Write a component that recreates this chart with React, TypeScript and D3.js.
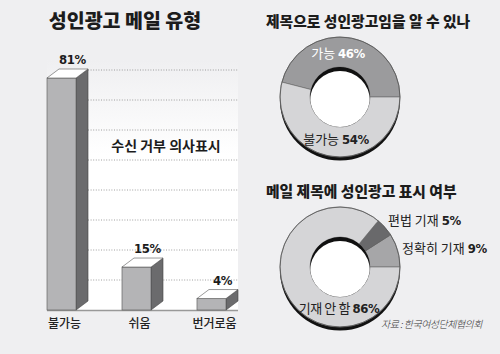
import React from 'react';
import * as d3 from 'd3';

// bar chart: 성인광고 메일 유형 (수신 거부 의사표시)
const barCategories = ['불가능', '쉬움', '번거로움'];
const barValues = [81, 15, 4];
const gridLines = [1, 2, 3, 4, 5, 6, 7, 8];

// donut 1: 제목으로 성인광고임을 알 수 있나
const donut1Labels = ['가능', '불가능'];
const donut1Values = [46, 54];

// donut 2: 메일 제목에 성인광고 표시 여부
const donut2Labels = ['정확히 기재', '편법 기재', '기재 안 함'];
const donut2Values = [9, 5, 86];

const W = 500;
const H = 354;
const BG = '#efeff1';
const KR = "'Noto Sans CJK KR', 'Noto Sans', sans-serif";
const NUM = "'Liberation Sans Narrow', 'DejaVu Sans Condensed', 'Liberation Sans', Arial, sans-serif";

interface DonutProps {
  id: string;
  cx: number;
  cy: number;
  values: number[];
  colors: string[];
}

const Donut: React.FC<DonutProps> = ({ id, cx, cy, values, colors }) => {
  const outer = 60;
  const inner = 30;
  const pie = d3.pie<number>()
    .sort(null)
    .startAngle(Math.PI / 2)
    .endAngle(Math.PI / 2 - 2 * Math.PI);
  const arc = d3.arc<d3.PieArcDatum<number>>()
    .innerRadius(inner)
    .outerRadius(outer);
  const slices = pie(values);

  return (
    <g transform={`translate(${cx},${cy})`}>
      <defs>
        <clipPath id={`hole-${id}`}>
          <circle r={inner} />
        </clipPath>
      </defs>
      {/* drop shadow under the ring */}
      <circle cx={0} cy={3.5} r={outer} fill="#111" />
      {slices.map((s, i) => (
        <path key={i} d={arc(s) || ''} fill={colors[i]} stroke="#6a6a6a" strokeWidth={0.6} />
      ))}
      <circle r={outer} fill="none" stroke="#555" strokeWidth={0.8} />
      {/* hole with shadow at the top */}
      <g clipPath={`url(#hole-${id})`}>
        <circle r={inner} fill="#111" />
        <circle cy={4} r={inner} fill="#fff" />
      </g>
    </g>
  );
};

const App: React.FC = () => {
  const baseY = 310;
  const depthX = 12;
  const depthY = 9;

  const xScale = d3.scaleBand<string>()
    .domain(barCategories)
    .range([47, 226])
    .paddingInner(0.613)
    .paddingOuter(0);
  const bw = xScale.bandwidth();

  const yScale = d3.scaleLinear()
    .domain([0, 81])
    .range([baseY, 78]);

  const gridScale = d3.scaleLinear()
    .domain([0, 8])
    .range([baseY, 70]);

  const numStyle = { fontStretch: 'condensed' as const, letterSpacing: '-0.4px' };

  return (
    <div style={{ position: 'absolute', left: 0, top: 0 }}>
      <svg width={W} height={H} style={{ display: 'block', background: BG }}>
        <defs>
          <linearGradient id="plotFade" x1="0" y1="0" x2="0" y2="1">
            <stop offset="0" stopColor={BG} />
            <stop offset="0.38" stopColor="#ffffff" />
            <stop offset="1" stopColor="#ffffff" />
          </linearGradient>
        </defs>

        {/* ---------- left: bar chart ---------- */}
        <text x={125} y={28} textAnchor="middle" fontFamily={KR} fontWeight={900}
          fontSize={19.5} fill="#1c1c1c">성인광고 메일 유형</text>

        <rect x={47} y={60} width={191} height={baseY - 60} fill="url(#plotFade)" />

        {gridLines.map(g => (
          <line key={g} x1={88} x2={238} y1={gridScale(g)} y2={gridScale(g)}
            stroke="#888" strokeWidth={0.8} strokeDasharray="1,1.6" />
        ))}

        <text x={166} y={151} textAnchor="middle" fontFamily={KR} fontWeight={700}
          fontSize={14} fill="#1c1c1c">수신 거부 의사표시</text>

        <line x1={47} x2={238} y1={baseY + 0.5} y2={baseY + 0.5} stroke="#999" strokeWidth={1.5} />

        {barCategories.map((c, i) => {
          const x = xScale(c) || 0;
          const y = yScale(barValues[i]);
          const side = `${x + bw},${y} ${x + bw + depthX},${y - depthY} ${x + bw + depthX},${baseY - depthY} ${x + bw},${baseY}`;
          const top = `${x},${y} ${x + depthX},${y - depthY} ${x + bw + depthX},${y - depthY} ${x + bw},${y}`;
          return (
            <g key={c}>
              <polygon points={side} fill="#6b6b6d" stroke="#444" strokeWidth={0.6} />
              <rect x={x} y={y} width={bw} height={baseY - y} fill="#b4b4b6" stroke="#555" strokeWidth={0.6} />
              <polygon points={top} fill="#ffffff" stroke="#555" strokeWidth={0.6} />
              <text x={x + bw / 2 + 11} y={y - depthY - 5} textAnchor="middle" fontFamily={NUM}
                fontWeight={700} fontSize={13} fill="#1c1c1c" style={numStyle}>{barValues[i]}%</text>
              <text x={x + bw / 2 + 3} y={328} textAnchor="middle" fontFamily={KR}
                fontWeight={500} fontSize={12} fill="#222">{c}</text>
            </g>
          );
        })}

        {/* ---------- right top: donut 1 ---------- */}
        <text x={266} y={27} fontFamily={KR} fontWeight={900} fontSize={14.8}
          fill="#1c1c1c">제목으로 성인광고임을 알 수 있나</text>
        <Donut id="d1" cx={340} cy={97} values={donut1Values} colors={['#9b9b9d', '#d5d5d7']} />
        <text x={338} y={58} textAnchor="middle" fontSize={13} fill="#fff">
          <tspan fontFamily={KR}>{donut1Labels[0]} </tspan>
          <tspan fontFamily={NUM} fontWeight={700} style={numStyle}>{donut1Values[0]}%</tspan>
        </text>
        <text x={336} y={144} textAnchor="middle" fontSize={13} fill="#222">
          <tspan fontFamily={KR}>{donut1Labels[1]} </tspan>
          <tspan fontFamily={NUM} fontWeight={700} style={numStyle}>{donut1Values[1]}%</tspan>
        </text>

        {/* ---------- right bottom: donut 2 ---------- */}
        <text x={266} y={197} fontFamily={KR} fontWeight={900} fontSize={14.8}
          fill="#1c1c1c">메일 제목에 성인광고 표시 여부</text>
        <Donut id="d2" cx={340} cy={267} values={donut2Values} colors={['#a6a6a8', '#69696b', '#d5d5d7']} />
        <text x={388} y={225} fontSize={13} fill="#222">
          <tspan fontFamily={KR}>{donut2Labels[1]} </tspan>
          <tspan fontFamily={NUM} fontWeight={700} style={numStyle}>{donut2Values[1]}%</tspan>
        </text>
        <text x={402} y={253} fontSize={13} fill="#222">
          <tspan fontFamily={KR}>{donut2Labels[0]} </tspan>
          <tspan fontFamily={NUM} fontWeight={700} style={numStyle}>{donut2Values[0]}%</tspan>
        </text>
        <text x={339} y={313} textAnchor="middle" fontSize={13} fill="#222" letterSpacing={-0.4}>
          <tspan fontFamily={KR}>{donut2Labels[2]} </tspan>
          <tspan fontFamily={NUM} fontWeight={700} style={numStyle}>{donut2Values[2]}%</tspan>
        </text>

        <g transform="translate(482,328) skewX(-14)">
          <text x={0} y={0} textAnchor="end" fontFamily={KR} fontWeight={300}
            fontSize={10} letterSpacing={-0.5} fill="#333">자료 : 한국여성단체협의회</text>
        </g>
      </svg>
    </div>
  );
};

export default App;
